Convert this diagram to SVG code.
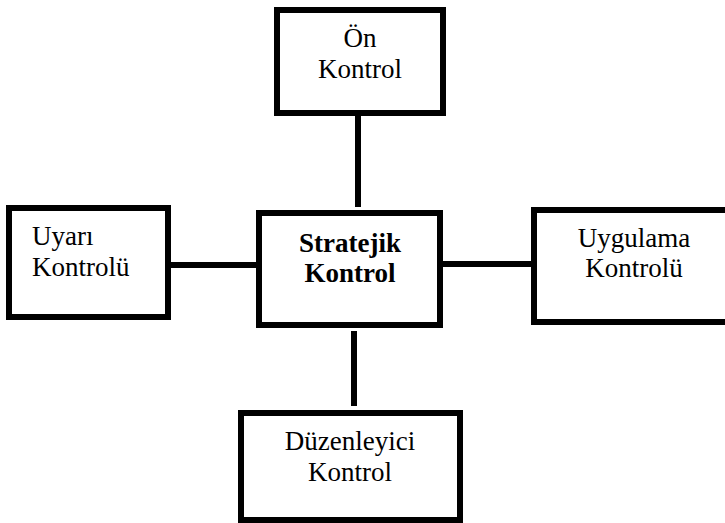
<svg xmlns="http://www.w3.org/2000/svg" width="725" height="523" viewBox="0 0 725 523">
<style>
.box{fill:#fff;stroke:#000;stroke-width:6}
.ln{stroke:#000;stroke-width:6;fill:none}
.t{font-family:"Liberation Serif","Times New Roman",serif;font-size:27px;fill:#000}
.b{font-weight:bold}
.c{text-anchor:middle}
</style>
<rect width="725" height="523" fill="#fff"/>
<g id="connectors">
<line class="ln" x1="358" y1="116" x2="358" y2="207"/>
<line class="ln" x1="354" y1="331" x2="354" y2="406"/>
<line class="ln" x1="171" y1="265" x2="256" y2="265"/>
<line class="ln" x1="443" y1="264" x2="531" y2="264"/>
</g>
<g id="on-kontrol">
<rect class="box" x="277" y="10" width="166" height="103"/>
<text class="t c" x="360" y="47">Ön</text>
<text class="t c" x="360" y="78">Kontrol</text>
</g>
<g id="stratejik-kontrol">
<rect class="box" x="259" y="213" width="181" height="112"/>
<text class="t b c" x="350" y="252">Stratejik</text>
<text class="t b c" x="350" y="282">Kontrol</text>
</g>
<g id="uyari-kontrolu">
<rect class="box" x="9" y="208" width="159" height="109"/>
<text class="t" x="32" y="245">Uyarı</text>
<text class="t" x="32" y="276">Kontrolü</text>
</g>
<g id="uygulama-kontrolu">
<rect class="box" x="534" y="210" width="200" height="112"/>
<text class="t c" x="634" y="247">Uygulama</text>
<text class="t c" x="634" y="277">Kontrolü</text>
</g>
<g id="duzenleyici-kontrol">
<rect class="box" x="241" y="413" width="219" height="107"/>
<text class="t c" x="350" y="450">Düzenleyici</text>
<text class="t c" x="350" y="481">Kontrol</text>
</g>
</svg>
